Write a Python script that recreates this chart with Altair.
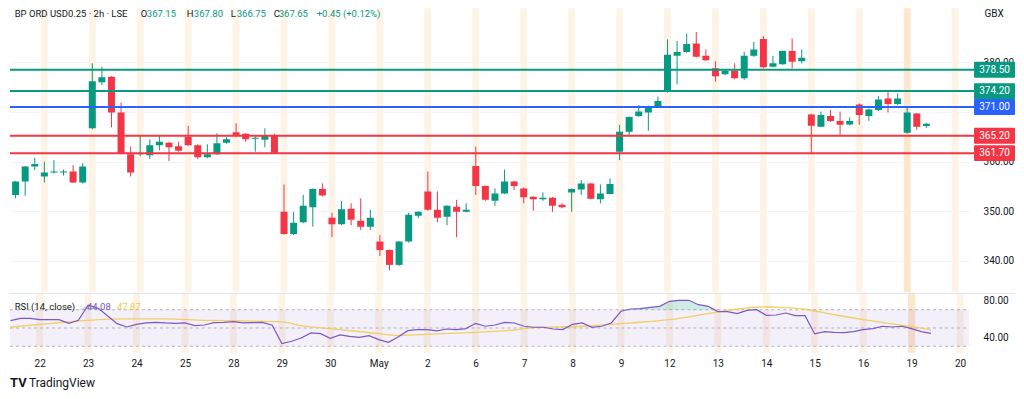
import altair as alt
import pandas as pd

# ---------------- data ----------------
opens = [353.3, 356.0, 359.0, 357.0, 357.8, 357.8, 358.0, 355.8, 366.7, 376.0,
         377.1, 369.9, 361.5, 361.5, 361.3, 363.3, 363.8, 363.1, 365.0, 363.3,
         360.9, 361.5, 363.8, 365.9, 365.6, 364.6, 364.4, 365.2, 349.9, 345.4,
         347.8, 350.8, 354.5, 348.7, 347.4, 350.5, 348.1, 346.9, 343.9, 342.2,
         339.2, 343.9, 349.1, 354.0, 350.3, 348.9, 350.9, 349.9, 359.1, 355.1,
         352.1, 353.6, 356.0, 354.6, 352.9, 352.4, 352.7, 351.3, 353.8, 354.4,
         355.6, 352.4, 353.5, 362.0, 366.0, 369.2, 369.9, 371.2, 374.1, 381.3,
         382.1, 383.8, 381.3, 378.8, 377.6, 378.3, 376.8, 381.3, 384.7, 379.1,
         379.6, 382.3, 380.2, 369.5, 367.0, 369.2, 368.2, 367.5, 371.5, 369.2,
         370.4, 372.7, 371.6, 365.8, 369.7, 367.15]
highs = [356.1, 359.1, 360.8, 360.0, 360.3, 358.4, 359.3, 359.7, 379.8, 379.1,
         377.2, 371.9, 363.0, 365.2, 364.5, 365.2, 364.0, 364.0, 367.2, 363.5,
         363.5, 365.7, 364.9, 367.7, 365.7, 365.1, 366.7, 365.6, 355.4, 349.9,
         353.3, 354.6, 355.6, 349.7, 352.1, 351.6, 352.6, 350.3, 345.2, 342.3,
         344.0, 349.7, 350.0, 358.0, 354.0, 351.2, 352.3, 351.6, 363.0, 355.2,
         354.6, 358.4, 356.1, 354.8, 353.0, 353.8, 352.9, 351.6, 354.6, 356.3,
         355.7, 355.4, 356.6, 367.4, 369.1, 371.4, 371.3, 373.1, 384.6, 384.3,
         385.8, 386.1, 382.6, 380.2, 378.5, 379.8, 382.1, 384.1, 385.3, 381.3,
         382.4, 384.8, 382.6, 369.6, 370.1, 370.4, 370.1, 368.9, 371.7, 370.7,
         373.2, 374.1, 373.7, 370.9, 369.8, 367.80]
lows = [352.6, 353.1, 358.3, 355.8, 357.6, 357.2, 355.7, 355.6, 366.5, 375.4,
        366.9, 361.5, 357.0, 361.1, 360.5, 362.3, 360.1, 362.0, 363.2, 360.5,
        360.7, 361.4, 363.6, 364.9, 364.0, 362.0, 362.9, 361.6, 345.3, 345.2,
        347.6, 346.9, 353.0, 344.8, 347.2, 347.2, 346.2, 346.2, 341.0, 338.1,
        339.0, 343.7, 348.6, 350.1, 347.8, 347.2, 344.8, 349.8, 353.3, 352.1,
        351.1, 353.5, 354.3, 351.6, 350.1, 352.1, 349.9, 350.6, 349.9, 353.3,
        352.4, 351.6, 353.4, 360.3, 365.4, 369.0, 366.2, 371.0, 373.9, 375.6,
        381.9, 381.0, 380.3, 376.1, 377.4, 376.6, 376.5, 381.1, 378.8, 379.0,
        379.5, 378.8, 379.8, 361.7, 366.9, 368.0, 365.4, 367.3, 367.4, 368.2,
        370.2, 369.9, 371.4, 365.6, 366.4, 366.75]
closes = [356.0, 359.0, 359.5, 357.8, 358.0, 358.0, 355.8, 359.0, 376.2, 377.0,
          369.9, 361.7, 357.8, 361.7, 363.3, 364.0, 362.9, 362.2, 363.3, 360.9,
          361.5, 363.7, 364.5, 365.2, 364.5, 364.8, 365.2, 361.8, 345.4, 347.7,
          351.1, 354.5, 353.2, 347.4, 350.4, 348.3, 346.9, 348.7, 342.2, 339.2,
          343.9, 349.3, 349.9, 350.3, 348.7, 351.1, 349.9, 350.3, 355.1, 352.3,
          353.6, 356.0, 355.1, 352.8, 352.4, 352.7, 351.1, 350.8, 354.5, 355.6,
          352.5, 353.6, 355.5, 366.0, 369.0, 370.1, 371.2, 372.2, 381.5, 382.1,
          383.7, 381.1, 380.4, 377.2, 378.3, 376.8, 381.3, 382.6, 379.0, 379.8,
          382.3, 380.1, 380.9, 367.2, 369.4, 368.2, 367.4, 368.2, 369.4, 370.5,
          372.5, 371.6, 372.7, 369.9, 367.0, 367.65]

rsi_vals = [58.0, 60.6, 60.6, 59.1, 59.1, 59.1, 55.1, 58.4, 75.0, 71.9,
            63.5, 54.8, 51.1, 54.0, 55.5, 56.2, 55.5, 55.1, 55.5, 52.6,
            53.3, 55.9, 56.2, 57.0, 55.5, 55.9, 56.2, 53.0, 32.9, 35.5,
            39.1, 44.6, 43.8, 38.7, 42.4, 40.9, 39.8, 41.7, 37.3, 34.4,
            40.2, 47.1, 48.2, 48.2, 46.8, 48.9, 48.2, 49.3, 55.1, 51.9,
            53.3, 56.2, 55.5, 51.9, 50.8, 50.8, 48.9, 48.2, 54.0, 55.5,
            50.8, 51.9, 55.5, 68.3, 70.8, 71.2, 72.6, 73.7, 79.2, 80.3,
            80.3, 75.5, 73.7, 67.9, 67.9, 65.7, 69.3, 70.1, 63.9, 64.2,
            66.4, 63.5, 63.5, 43.5, 46.0, 45.3, 44.9, 46.0, 48.2, 49.3,
            51.9, 51.1, 51.9, 49.3, 46.0, 44.1]

ma_bar = [0, 4, 8, 12, 16, 20, 24, 28, 30, 34, 38, 40, 44, 48, 52, 54, 59, 64,
          68, 72, 75, 78, 80, 82, 85, 88, 91, 93, 95]
ma_vals = [51.1, 54.8, 58.4, 59.9, 59.9, 58.4, 57.7, 56.6, 52.6, 48.2, 43.8, 42.0,
           43.5, 45.3, 47.8, 50.4, 51.9, 55.5, 59.1, 65.7, 70.8, 73.0, 72.3, 70.5,
           64.6, 59.1, 54.5, 51.5, 48.0]

day_labels = ["22", "23", "24", "25", "28", "29", "30", "May", "2", "6",
              "7", "8", "9", "12", "13", "14", "15", "16", "19", "20"]
day_first_bar = [3, 8, 13, 18, 23, 28, 33, 38, 43, 48,
                 53, 58, 63, 68, 73, 78, 83, 88, 93, 98]
current_day = "19"

levels = [378.5, 374.2, 371.0, 365.2, 361.7]
level_kind = ["upper", "upper", "pivot", "lower", "lower"]

price_ticks = [340, 350, 360, 370, 380]
rsi_ticks = [40, 80]
rsi_guides = [70, 50, 30]

header_parts = ["BP ORD USD0.25 · 2h · LSE", "O", "367.15", "H", "367.80",
                "L", "366.75", "C", "367.65", "+0.45 (+0.12%)"]
rsi_header = ["RSI (14, close)", "44.08", "47.87"]

# ---------------- style / layout ----------------
FONT = "Roboto"
DARK = "#131722"
GREEN = "#089981"
RED = "#f23645"
BLUE = "#2962ff"
PURPLE = "#7e57c2"
YELLOW = "#f2c94c"
W, H1, H2 = 960, 284, 60
BAND_HALF = 0.36  # half width of the day highlight, in bar units

bars = pd.DataFrame({"n": list(range(len(opens))), "open": opens, "high": highs,
                     "low": lows, "close": closes})
bars["dir"] = ["up" if c >= o else "down" for o, c in zip(opens, closes)]
rsi_df = pd.DataFrame({"n": list(range(len(rsi_vals))), "rsi": rsi_vals})
ma_df = pd.DataFrame({"n": ma_bar, "ma": ma_vals})
days = pd.DataFrame({"n": day_first_bar, "label": day_labels})
days["today"] = ["yes" if l == current_day else "no" for l in day_labels]
lv = pd.DataFrame({"price": levels, "kind": level_kind})

xscale = alt.Scale(domain=[-0.062, 98.93], nice=False, zero=False)
yscale = alt.Scale(domain=[333.76, 390.9], nice=False, zero=False)
rscale = alt.Scale(domain=[22.8, 88.4], nice=False, zero=False)
dir_scale = alt.Scale(domain=["up", "down"], range=[GREEN, RED])
lvl_scale = alt.Scale(domain=["upper", "pivot", "lower"], range=[GREEN, BLUE, RED])
band_scale = alt.Scale(domain=["no", "yes"], range=["#fdf3e7", "#fce6cc"])

yaxis = alt.Axis(orient="right", values=price_ticks, format=".2f", grid=True,
                 gridColor="#f0f3fa", domain=False, ticks=False, labelPadding=14,
                 labelFontSize=10, labelColor=DARK, title=None, labelFlush=False,
                 labelOverlap=False, labelFont=FONT)
raxis = alt.Axis(orient="right", values=rsi_ticks, format=".2f", grid=False,
                 domain=False, ticks=False, labelPadding=14, labelFontSize=10,
                 labelColor=DARK, title=None, labelFlush=False, labelOverlap=False,
                 labelFont=FONT)

label_expr = "''"
for b, l in reversed(list(zip(day_first_bar, day_labels))):
    label_expr = f"datum.value == {b} ? '{l}' : {label_expr}"
xaxis = alt.Axis(values=day_first_bar, labelExpr=label_expr, grid=False, domain=False,
                 ticks=False, labelPadding=6, labelFontSize=10, labelColor=DARK,
                 title=None, labelFlush=False, labelOverlap=False, labelFont=FONT)


def txt(s, x, y, color, size=10, align="left", weight="normal"):
    return alt.Chart(pd.DataFrame({"t": [s]})).mark_text(
        align=align, baseline="middle", fontSize=size, color=color, font=FONT,
        fontWeight=weight).encode(x=alt.value(x), y=alt.value(y), text="t:N")


def day_bands(axis):
    return alt.Chart(days).transform_calculate(
        a=f"datum.n - {BAND_HALF}", b=f"datum.n + {BAND_HALF}").mark_rect().encode(
        x=alt.X("a:Q", scale=xscale, axis=axis), x2="b:Q",
        color=alt.Color("today:N", scale=band_scale, legend=None))


# ---------------- price panel ----------------
wicks = alt.Chart(bars).mark_rule(strokeWidth=1, clip=True).encode(
    x=alt.X("n:Q", scale=xscale, axis=None),
    y=alt.Y("low:Q", scale=yscale, axis=yaxis),
    y2="high:Q",
    color=alt.Color("dir:N", scale=dir_scale, legend=None))
bodies = alt.Chart(bars).mark_bar(size=7, clip=True, minBandSize=1).encode(
    x=alt.X("n:Q", scale=xscale, axis=None),
    y=alt.Y("open:Q", scale=yscale, axis=yaxis),
    y2="close:Q",
    color=alt.Color("dir:N", scale=dir_scale, legend=None))
level_lines = alt.Chart(lv).mark_rule(strokeWidth=2).encode(
    x=alt.value(0), x2=alt.value(965),
    y=alt.Y("price:Q", scale=yscale, axis=yaxis),
    color=alt.Color("kind:N", scale=lvl_scale, legend=None))
level_boxes = alt.Chart(lv).transform_calculate(
    top="datum.price + 1.6", bot="datum.price - 1.6").mark_rect(cornerRadius=1).encode(
    x=alt.value(965), x2=alt.value(1006),
    y=alt.Y("top:Q", scale=yscale, axis=yaxis), y2="bot:Q",
    color=alt.Color("kind:N", scale=lvl_scale, legend=None))
level_text = alt.Chart(lv).mark_text(color="white", fontSize=10, font=FONT,
                                     align="center", baseline="middle").encode(
    x=alt.value(985.5),
    y=alt.Y("price:Q", scale=yscale, axis=yaxis),
    text=alt.Text("price:Q", format=".2f"))

hx = [4.7, 131, 137, 177, 184, 221, 227, 264, 269, 307]
hc = [DARK, DARK, GREEN, DARK, GREEN, DARK, GREEN, DARK, GREEN, GREEN]
header = [txt(s, x, 6, c, size=9.5) for s, x, c in zip(header_parts, hx, hc)]

price = alt.layer(day_bands(None), wicks, bodies, level_lines, level_boxes, level_text,
                  *header, txt("GBX", 985, 6, DARK, align="center")).resolve_scale(
    color="independent").properties(width=W, height=H1)

# ---------------- RSI panel ----------------
guide_df = pd.DataFrame({"v": rsi_guides})
zone = alt.Chart(pd.DataFrame({"lo": [rsi_guides[2]], "hi": [rsi_guides[0]]})).mark_rect(
    color=PURPLE, opacity=0.09).encode(
    x=alt.value(0), x2=alt.value(W),
    y=alt.Y("lo:Q", scale=rscale, axis=raxis), y2="hi:Q")
guides = alt.Chart(guide_df).mark_rule(strokeDash=[3, 3], color="#9598a1",
                                       strokeWidth=1, opacity=0.7).encode(
    x=alt.value(0), x2=alt.value(W),
    y=alt.Y("v:Q", scale=rscale, axis=raxis))
ob = alt.Chart(rsi_df).transform_calculate(
    top="max(datum.rsi, 70)", base="70").mark_area(color=GREEN, opacity=0.2).encode(
    x=alt.X("n:Q", scale=xscale, axis=xaxis),
    y=alt.Y("top:Q", scale=rscale, axis=raxis), y2="base:Q")
ma_line = alt.Chart(ma_df).mark_line(color=YELLOW, strokeWidth=1.3, opacity=0.85,
                                     interpolate="monotone").encode(
    x=alt.X("n:Q", scale=xscale, axis=xaxis),
    y=alt.Y("ma:Q", scale=rscale, axis=raxis))
rsi_line = alt.Chart(rsi_df).mark_line(color=PURPLE, strokeWidth=1.2).encode(
    x=alt.X("n:Q", scale=xscale, axis=xaxis),
    y=alt.Y("rsi:Q", scale=rscale, axis=raxis))
sep = alt.Chart(pd.DataFrame({"a": [0]})).mark_rule(color="#e0e3eb", strokeWidth=1).encode(
    x=alt.value(0), x2=alt.value(1006), y=alt.value(0.5))

rsi_hdr = [txt(rsi_header[0], 4.7, 14, DARK, size=9.5), txt(rsi_header[1], 77, 14, PURPLE, size=9.5),
           txt(rsi_header[2], 107, 14, YELLOW, size=9.5)]
logo = [txt("TV", 0, 90, DARK, size=13, weight="bold"),
        txt("TradingView", 19, 90, DARK, size=12)]

rsi = alt.layer(day_bands(xaxis), zone, guides, ob, ma_line, rsi_line, sep, *rsi_hdr,
                *logo).properties(width=W, height=H2)

chart = alt.vconcat(price, rsi, spacing=1).properties(
    padding=0, background="white").configure(font=FONT).configure_view(stroke=None)

chart.save("out.html", embed_options={"renderer": "svg", "actions": False})
